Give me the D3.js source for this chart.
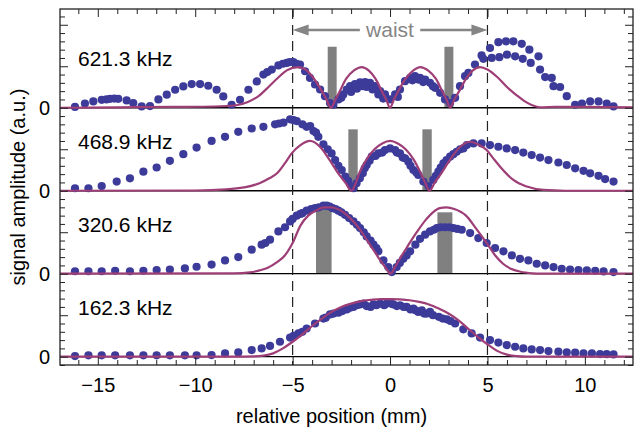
<!DOCTYPE html>
<html>
<head>
<meta charset="utf-8">
<script src="https://cdn.jsdelivr.net/npm/d3@7"></script>
<style>
body{margin:0;background:#fff;}
svg{font-family:"Liberation Sans",Arial,sans-serif;}
</style>
</head>
<body>
<svg id="chart"></svg>
<script>
// panel labels, top to bottom
var freqLabels=["621.3 kHz","468.9 kHz","320.6 kHz","162.3 kHz"]
var xTickLabels=[-15,-10,-5,0,5,10]
var waistEdges=[-5,5]

// measured points [position mm, amplitude]
var dots621=[[-16.17,0.01],[-15.66,0.05],[-15.23,0.076],[-14.8,0.096],[-14.37,0.108],[-13.95,0.108],[-13.52,0.088],[-13.18,0.056],[-12.75,0.016],[-12.32,0.02],[-11.89,0.1],[-11.46,0.157],[-11.03,0.217],[-10.61,0.257],[-10.18,0.285],[-9.75,0.285],[-9.33,0.265],[-8.9,0.217],[-8.56,0.137],[-8.13,0.036],[-7.7,0.096],[-7.27,0.217],[-6.84,0.317],[-6.5,0.4],[-6.07,0.46],[-5.73,0.51],[-5.3,0.54],[-4.96,0.55],[-4.62,0.52],[-4.36,0.44],[-4.11,0.36],[-3.85,0.28],[-3.59,0.22],[-3.34,0.14],[-3.08,0.056],[-2.91,0.036],[-2.65,0.1],[-2.4,0.16],[-2.22,0.22],[-2.05,0.26],[-1.8,0.285],[-1.54,0.305],[-1.28,0.31],[-1.03,0.3],[-0.77,0.26],[-0.51,0.2],[-0.26,0.16],[0,0.1],[0.26,0.16],[0.51,0.22],[0.77,0.32],[1.03,0.36],[1.28,0.38],[1.54,0.36],[1.8,0.34],[2.05,0.3],[2.31,0.24],[2.57,0.18],[2.82,0.1],[3.08,0.056],[3.34,0.12],[3.59,0.26],[3.85,0.38],[4.02,0.42],[4.36,0.52],[4.7,0.63],[5.13,0.72],[5.56,0.79],[5.95,0.8],[6.33,0.8],[6.76,0.77],[7.15,0.7],[7.62,0.62],[8.3,0.36],[8.73,0.25],[9.07,0.14],[9.5,0.036],[9.85,0.05],[10.27,0.076],[10.7,0.076],[11.12,0.05],[11.47,0.016]]
var dots621b=[[-14.55,0.1],[-14.15,0.11],[-6.3,0.43],[-5.5,0.53],[-5.15,0.55],[-4.8,0.53],[-2.5,0.12],[-2.0,0.19],[-1.7,0.23],[-1.4,0.26],[-1.2,0.25],[-0.9,0.22],[-0.6,0.16],[-0.35,0.11],[0.4,0.13],[1.15,0.33],[1.45,0.34],[1.7,0.31],[2.2,0.26],[4.79,0.59],[5.22,0.6],[5.61,0.61],[6.0,0.64],[6.42,0.62],[6.81,0.59],[7.22,0.54],[7.7,0.46],[7.96,0.37],[8.39,0.26]]
var dots469=[[-16.17,0.03],[-15.48,0.03],[-14.8,0.056],[-14.03,0.11],[-13.35,0.15],[-12.66,0.23],[-11.98,0.28],[-11.3,0.36],[-10.61,0.44],[-9.93,0.52],[-9.16,0.6],[-8.47,0.65],[-7.79,0.71],[-7.1,0.75],[-6.5,0.77],[-5.9,0.8],[-5.47,0.82],[-5.13,0.86],[-4.79,0.84],[-4.5,0.8],[-4.28,0.77],[-3.93,0.72],[-3.68,0.65],[-3.42,0.56],[-3.2,0.5],[-3.0,0.45],[-2.82,0.37],[-2.65,0.3],[-2.48,0.25],[-2.3,0.17],[-2.15,0.12],[-1.97,0.05],[-1.88,0.03],[-1.72,0.09],[-1.55,0.15],[-1.4,0.21],[-1.2,0.31],[-0.94,0.41],[-0.6,0.45],[-0.26,0.49],[0,0.51],[0.26,0.49],[0.51,0.45],[0.77,0.39],[0.94,0.35],[1.2,0.25],[1.45,0.19],[1.71,0.11],[1.97,0.056],[2.22,0.13],[2.48,0.23],[2.74,0.33],[3.08,0.41],[3.42,0.47],[3.76,0.51],[3.94,0.55],[4.28,0.57],[4.7,0.57],[5.13,0.55],[5.56,0.53],[5.99,0.51],[6.42,0.49],[6.84,0.46],[7.27,0.43],[7.7,0.4],[8.13,0.37],[8.64,0.34],[9.07,0.31],[9.5,0.27],[9.93,0.24],[10.27,0.21],[10.7,0.18],[11.04,0.14],[11.47,0.11]]
var dots469b=[[-5.7,0.81],[-4.95,0.85],[-4.1,0.78],[-3.8,0.7],[-1.3,0.27],[-1.05,0.36],[-0.75,0.42],[-0.4,0.46],[0.35,0.46],[0.65,0.4],[1.05,0.3],[1.35,0.22],[2.35,0.18],[2.6,0.28],[2.9,0.37],[3.25,0.44],[3.6,0.5]]
var dots321=[[-16.17,0.03],[-15.48,0.03],[-14.8,0.03],[-14.11,0.036],[-13.35,0.03],[-12.66,0.036],[-11.98,0.044],[-11.3,0.05],[-10.53,0.064],[-9.93,0.084],[-9.16,0.11],[-8.47,0.16],[-7.79,0.2],[-7.1,0.29],[-6.59,0.35],[-6.16,0.41],[-5.73,0.51],[-5.39,0.56],[-5.13,0.63],[-4.79,0.7],[-4.5,0.73],[-4.28,0.76],[-3.85,0.79],[-3.42,0.82],[-3.1,0.81],[-2.8,0.78],[-2.5,0.74],[-2.31,0.71],[-1.88,0.63],[-1.54,0.55],[-1.2,0.45],[-0.85,0.35],[-0.6,0.27],[-0.34,0.16],[-0.09,0.08],[0.09,0.02],[0.34,0.08],[0.68,0.18],[1.03,0.27],[1.3,0.35],[1.54,0.42],[1.8,0.47],[2.05,0.51],[2.4,0.55],[2.82,0.56],[3.25,0.55],[3.68,0.53],[4.11,0.49],[4.53,0.43],[4.96,0.37],[5.39,0.31],[5.82,0.27],[6.25,0.22],[6.67,0.18],[7.1,0.16],[7.53,0.12],[7.96,0.1],[8.39,0.08],[8.81,0.06],[9.24,0.05],[9.67,0.044],[10.1,0.04],[10.53,0.036],[10.96,0.028],[11.47,0.02]]
var dots321b=[[-6.4,0.37],[-5.0,0.66],[-4.6,0.72],[-4.05,0.78],[-3.65,0.8],[-3.25,0.82],[-2.95,0.79],[-2.65,0.76],[-2.1,0.67],[-1.7,0.59],[-1.35,0.5],[-1.0,0.4],[-0.7,0.31],[0.5,0.13],[0.85,0.22],[2.25,0.53],[2.6,0.56],[3.05,0.56],[3.45,0.54]]
var dots162=[[-16.17,0.008],[-15.48,0.016],[-14.8,0.016],[-14.11,0.016],[-13.35,0.016],[-12.66,0.016],[-11.98,0.016],[-11.3,0.016],[-10.53,0.016],[-9.93,0.016],[-9.16,0.02],[-8.47,0.04],[-7.79,0.052],[-7.1,0.08],[-6.59,0.1],[-6.16,0.13],[-5.65,0.18],[-5.13,0.23],[-4.7,0.28],[-4.28,0.34],[-3.85,0.4],[-3.42,0.46],[-3.08,0.51],[-2.65,0.53],[-2.22,0.57],[-1.88,0.6],[-1.54,0.63],[-1.2,0.61],[-0.85,0.63],[-0.51,0.64],[-0.17,0.64],[0.17,0.63],[0.51,0.62],[0.85,0.6],[1.2,0.58],[1.45,0.54],[1.63,0.56],[1.88,0.52],[2.2,0.5],[2.5,0.48],[2.91,0.45],[3.34,0.4],[3.76,0.33],[4.19,0.28],[4.62,0.23],[5.13,0.2],[5.56,0.17],[5.99,0.14],[6.42,0.12],[6.84,0.1],[7.27,0.088],[7.7,0.08],[8.13,0.068],[8.64,0.06],[9.07,0.052],[9.5,0.048],[9.93,0.04],[10.36,0.04],[10.78,0.032],[11.12,0.03],[11.47,0.028]]
var dots162b=[[-4.95,0.25],[-4.5,0.3],[-3.3,0.47],[-2.9,0.52],[-2.45,0.55],[-2.05,0.59],[-1.7,0.62],[-1.35,0.64],[-1.0,0.6],[-0.7,0.62],[-0.3,0.62],[0.05,0.64],[0.35,0.61],[0.7,0.6],[1.05,0.57],[1.3,0.56],[1.75,0.52],[2.05,0.54],[2.7,0.46],[3.1,0.43]]

// model curves [position mm, amplitude]
var fit621=[[-16.94,0],[-14,0.005],[-11,0.01],[-9,0.015],[-7.9,0.03],[-7.3,0.07],[-6.7,0.15],[-6.2,0.26],[-5.8,0.35],[-5.3,0.45],[-4.72,0.49],[-4.4,0.47],[-4.0,0.38],[-3.6,0.24],[-3.3,0.12],[-3.04,0],[-2.8,0.1],[-2.6,0.19],[-2.25,0.35],[-1.85,0.45],[-1.45,0.49],[-1.1,0.45],[-0.75,0.35],[-0.4,0.19],[-0.2,0.1],[0,0],[0.2,0.1],[0.4,0.19],[0.8,0.35],[1.2,0.45],[1.55,0.49],[1.95,0.45],[2.35,0.35],[2.7,0.19],[2.9,0.1],[3.08,0],[3.3,0.1],[3.6,0.22],[3.9,0.35],[4.25,0.45],[4.62,0.49],[5.0,0.46],[5.5,0.37],[6.0,0.25],[6.5,0.15],[6.9,0.08],[7.3,0.03],[7.7,0.005],[8.5,0.01],[10,0.01],[12.47,0.005]]
var fit469=[[-16.94,0],[-10,0.003],[-8.4,0.016],[-7.5,0.04],[-6.7,0.09],[-6.2,0.15],[-5.8,0.21],[-5.4,0.33],[-5.05,0.45],[-4.6,0.55],[-4.1,0.6],[-3.6,0.53],[-3.1,0.37],[-2.6,0.19],[-2.3,0.1],[-1.97,0],[-1.75,0.1],[-1.6,0.2],[-1.2,0.38],[-0.8,0.5],[-0.4,0.57],[0,0.6],[0.4,0.57],[0.8,0.5],[1.2,0.38],[1.6,0.2],[1.8,0.1],[2.02,0],[2.3,0.1],[2.6,0.2],[3.1,0.38],[3.6,0.53],[4.11,0.59],[4.5,0.56],[4.96,0.49],[5.3,0.39],[5.65,0.29],[6.0,0.2],[6.33,0.13],[7.02,0.05],[7.87,0.01],[9,0],[12.47,0]]
var fit321=[[-16.94,0],[-8,0.003],[-7.2,0.016],[-6.7,0.04],[-6.3,0.07],[-5.8,0.14],[-5.4,0.22],[-5,0.37],[-4.6,0.58],[-4.2,0.7],[-3.8,0.76],[-3.4,0.8],[-3.0,0.8],[-2.6,0.77],[-2.05,0.67],[-1.6,0.55],[-1.2,0.41],[-0.8,0.27],[-0.5,0.16],[-0.25,0.08],[0.03,0],[0.25,0.08],[0.5,0.18],[0.9,0.33],[1.37,0.5],[1.8,0.64],[2.2,0.74],[2.55,0.79],[2.9,0.8],[3.3,0.78],[3.9,0.7],[4.4,0.55],[4.96,0.37],[5.4,0.22],[5.8,0.12],[6.2,0.06],[6.7,0.024],[7.3,0.005],[7.7,0],[12.47,0]]
var fit162=[[-16.94,0],[-8,0],[-7,0.003],[-6.5,0.012],[-6,0.04],[-5.5,0.1],[-5,0.18],[-4.5,0.27],[-4,0.37],[-3.5,0.46],[-3,0.54],[-2.5,0.6],[-2,0.64],[-1.5,0.67],[-1,0.685],[-0.5,0.695],[0,0.695],[0.5,0.69],[1,0.68],[1.5,0.66],[2,0.63],[2.5,0.58],[3,0.52],[3.5,0.44],[4,0.34],[4.5,0.24],[5,0.15],[5.5,0.07],[6,0.025],[6.5,0.006],[7,0],[12.47,0]]

// grey markers [from mm, to mm, height]
var bars621=[[-3.2,-2.74,0.735],[2.79,3.25,0.735]]
var bars469=[[-2.14,-1.66,0.74],[1.66,2.14,0.74]]
var bars321=[[-3.8,-3.0,0.83],[2.43,3.2,0.74]]
var bars162=[]

var panels=[
  {label:freqLabels[0],offset:3,dots:[dots621,dots621b],fit:fit621,bars:bars621},
  {label:freqLabels[1],offset:2,dots:[dots469,dots469b],fit:fit469,bars:bars469},
  {label:freqLabels[2],offset:1,dots:[dots321,dots321b],fit:fit321,bars:bars321},
  {label:freqLabels[3],offset:0,dots:[dots162,dots162b],fit:fit162,bars:bars162}
]

var screen={width:641,height:431}
var svg=d3.select("#chart").attr("width",screen.width).attr("height",screen.height)

var xScale=d3.scaleLinear().domain([-16.94,12.47]).range([60,633])
var yScale=d3.scaleLinear().domain([-0.1,4.19]).range([365,9])

var dotColor="#3d3b9a"
var fitColor="#9e3e76"
var grey="#858585"

// bars go under everything
panels.forEach(function(p){
  svg.append("g").selectAll("rect")
    .data(p.bars).enter().append("rect")
    .attr("x",function(d){return xScale(d[0])})
    .attr("width",function(d){return xScale(d[1])-xScale(d[0])})
    .attr("y",function(d){return yScale(p.offset+d[2])})
    .attr("height",function(d){return yScale(p.offset)-yScale(p.offset+d[2])})
    .attr("fill","#808080")
})

// zero lines
svg.append("g").selectAll("line")
  .data(panels).enter().append("line")
  .attr("x1",60).attr("x2",633)
  .attr("y1",function(p){return yScale(p.offset)})
  .attr("y2",function(p){return yScale(p.offset)})
  .attr("stroke","#000").attr("stroke-width",1.3)

// dashed waist edges
svg.append("g").selectAll("line")
  .data(waistEdges).enter().append("line")
  .attr("x1",function(d){return xScale(d)}).attr("x2",function(d){return xScale(d)})
  .attr("y1",yScale(4.19)).attr("y2",yScale(-0.1))
  .attr("stroke","#222").attr("stroke-width",1.2)
  .attr("stroke-dasharray","10,6")

// dots
panels.forEach(function(p){
  p.dots.forEach(function(series){
    svg.append("g").selectAll("circle")
      .data(series).enter().append("circle")
      .attr("cx",function(d){return xScale(d[0])})
      .attr("cy",function(d){return yScale(p.offset+d[1])})
      .attr("r",4.1)
      .attr("fill",dotColor)
  })
})

// fit curves on top
var line=d3.line().curve(d3.curveMonotoneX)
panels.forEach(function(p){
  line.x(function(d){return xScale(d[0])}).y(function(d){return yScale(p.offset+d[1])})
  svg.append("path").datum(p.fit)
    .attr("d",line)
    .attr("fill","none")
    .attr("stroke",fitColor)
    .attr("stroke-width",2.2)
})

// panel labels
svg.append("g").selectAll("text")
  .data(panels).enter().append("text")
  .attr("x",78)
  .attr("y",function(p){return yScale(p.offset+0.5)})
  .attr("font-size",21)
  .text(function(p){return p.label})

// waist arrow
var ay=30
var xl=xScale(waistEdges[0]), xr=xScale(waistEdges[1])
var arrow=svg.append("g").attr("fill",grey).attr("stroke",grey)
arrow.append("line").attr("x1",xl+10).attr("x2",xScale(-1.55)).attr("y1",ay).attr("y2",ay).attr("stroke-width",2.6)
arrow.append("line").attr("x1",xScale(1.55)).attr("x2",xr-10).attr("y1",ay).attr("y2",ay).attr("stroke-width",2.6)
arrow.append("path").attr("stroke","none")
  .attr("d","M"+xl+","+ay+"L"+(xl+16)+","+(ay-5.5)+"L"+(xl+16)+","+(ay+5.5)+"Z")
arrow.append("path").attr("stroke","none")
  .attr("d","M"+xr+","+ay+"L"+(xr-16)+","+(ay-5.5)+"L"+(xr-16)+","+(ay+5.5)+"Z")
svg.append("text").attr("x",xScale(0)).attr("y",ay+6.5)
  .attr("text-anchor","middle").attr("font-size",21).attr("fill",grey)
  .text("waist")

// axes
var allX=d3.range(-16,13,1)
var minorX=allX.filter(function(v){return v%5!==0})
var majorX=xTickLabels
var allY=d3.range(-1,42,1).map(function(v){return v/10})
var minorY=allY.filter(function(v){return Math.round(v*10)%5!==0})
var majorY=allY.filter(function(v){return Math.round(v*10)%5===0})

function styleAxis(g){
  g.select(".domain").remove()
  g.selectAll(".tick line").attr("stroke","#222").attr("stroke-width",1)
}
svg.append("g").attr("transform","translate(0,365)")
  .call(d3.axisBottom(xScale).tickValues(minorX).tickSize(-5).tickFormat(""))
  .call(styleAxis)
svg.append("g").attr("transform","translate(0,365)")
  .call(d3.axisBottom(xScale).tickValues(majorX).tickSize(-8).tickPadding(13))
  .call(styleAxis)
  .selectAll("text").attr("font-size",20).attr("fill","#000")
  .style("font-family","'Liberation Sans',Arial,sans-serif")
svg.append("g").attr("transform","translate(0,9)")
  .call(d3.axisTop(xScale).tickValues(minorX).tickSize(-5).tickFormat(""))
  .call(styleAxis)
svg.append("g").attr("transform","translate(0,9)")
  .call(d3.axisTop(xScale).tickValues(majorX).tickSize(-8).tickFormat(""))
  .call(styleAxis)

;[[d3.axisLeft,60],[d3.axisRight,633]].forEach(function(a){
  svg.append("g").attr("transform","translate("+a[1]+",0)")
    .call(a[0](yScale).tickValues(minorY).tickSize(-5).tickFormat(""))
    .call(styleAxis)
  svg.append("g").attr("transform","translate("+a[1]+",0)")
    .call(a[0](yScale).tickValues(majorY).tickSize(-8).tickFormat(""))
    .call(styleAxis)
})
svg.append("g").attr("transform","translate(60,0)")
  .call(d3.axisLeft(yScale).tickValues(panels.map(function(p){return p.offset})).tickSize(0).tickPadding(10).tickFormat(function(){return "0"}))
  .call(styleAxis)
  .selectAll("text").attr("font-size",20).attr("fill","#000")
  .style("font-family","'Liberation Sans',Arial,sans-serif")

// frame
svg.append("rect").attr("x",60).attr("y",9).attr("width",573).attr("height",356)
  .attr("fill","none").attr("stroke","#222").attr("stroke-width",1.3)

// axis titles
svg.append("text").attr("x",(60+633)/2-15).attr("y",423)
  .attr("text-anchor","middle").attr("font-size",20)
  .text("relative position (mm)")
svg.append("text").attr("transform","translate(25,187) rotate(-90)")
  .attr("text-anchor","middle").attr("font-size",20)
  .text("signal amplitude (a.u.)")
</script>
</body>
</html>
